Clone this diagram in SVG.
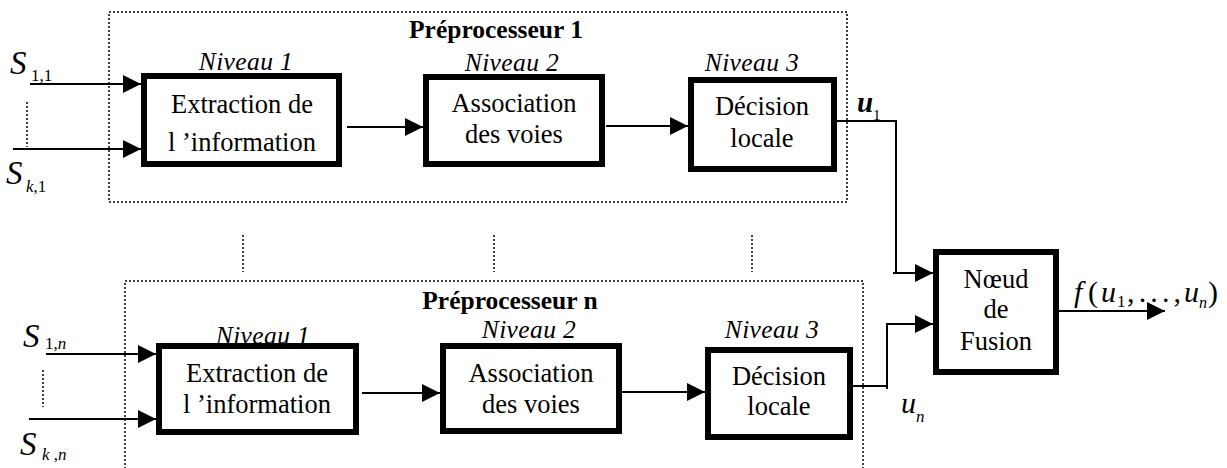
<svg xmlns="http://www.w3.org/2000/svg" width="1227" height="468" viewBox="0 0 1227 468">
<style>
.box{fill:#fff;stroke:#000;stroke-width:6}
.pre{fill:none;stroke:#000;stroke-width:1.5;stroke-dasharray:2 2}
.dot{fill:none;stroke:#000;stroke-width:1.5;stroke-dasharray:2 2}
.ln{fill:none;stroke:#000;stroke-width:2}
text{font-family:"Liberation Serif",Tinos,"Times New Roman","DejaVu Serif",serif;fill:#000}
.t{font-size:26.5px;text-anchor:middle}
.niv{font-size:25.5px;font-style:italic;text-anchor:middle;letter-spacing:0.4px}
.ttl{font-size:25.5px;font-weight:bold;text-anchor:middle}
.m{font-style:italic}
.big{font-size:33px;font-style:italic}
.sub{font-size:17px}
.fx{font-size:30px}
</style>
<defs>
<marker id="ah" markerUnits="userSpaceOnUse" markerWidth="18" markerHeight="18" refX="18" refY="9" orient="auto" viewBox="0 0 18 18">
<path d="M0,0 L18,9 L0,18 z" fill="#000"/>
</marker>
</defs>
<g id="preprocesseur-1">
<rect class="pre" x="109" y="12" width="738" height="190"/>
<text class="ttl" x="496" y="38">Préprocesseur 1</text>
</g>
<g id="preprocesseur-n">
<rect class="pre" x="125" y="281" width="738" height="200"/>
<text class="ttl" x="510" y="309">Préprocesseur n</text>
</g>
<g id="extraction-1">
<text class="niv" x="246" y="70">Niveau 1</text>
<rect class="box" x="144" y="76" width="195" height="88"/>
<text class="t" x="242" y="113">Extraction de</text>
<text class="t" x="242" y="151">l ’information</text>
</g>
<g id="association-1">
<text class="niv" x="512" y="71">Niveau 2</text>
<rect class="box" x="426" y="77" width="176" height="87"/>
<text class="t" x="514" y="112">Association</text>
<text class="t" x="514" y="143">des voies</text>
</g>
<g id="decision-1">
<text class="niv" x="752" y="71">Niveau 3</text>
<rect class="box" x="691" y="80" width="143" height="89"/>
<text class="t" x="762" y="115">Décision</text>
<text class="t" x="762" y="147">locale</text>
</g>
<g id="extraction-n">
<text class="niv" x="263" y="344">Niveau 1</text>
<rect class="box" x="159" y="346" width="197" height="86"/>
<text class="t" x="257" y="382">Extraction de</text>
<text class="t" x="257" y="413">l ’information</text>
</g>
<g id="association-n">
<text class="niv" x="529" y="338">Niveau 2</text>
<rect class="box" x="443" y="346" width="176" height="85"/>
<text class="t" x="531" y="382">Association</text>
<text class="t" x="531" y="413">des voies</text>
</g>
<g id="decision-n">
<text class="niv" x="772" y="338">Niveau 3</text>
<rect class="box" x="708" y="350" width="142" height="87"/>
<text class="t" x="779" y="385">Décision</text>
<text class="t" x="779" y="415">locale</text>
</g>
<g id="fusion">
<rect class="box" x="936" y="252" width="120" height="120"/>
<text class="t" x="996" y="288">Nœud</text>
<text class="t" x="996" y="318">de</text>
<text class="t" x="996" y="350">Fusion</text>
</g>
<g id="labels">
<text class="big" x="10" y="74">S</text>
<text class="sub" x="31" y="81">1,1</text>
<text class="big" x="6" y="184">S</text>
<text class="sub" x="26" y="192"><tspan font-style="italic">k</tspan>,1</text>
<text class="big" x="23" y="347">S</text>
<text class="sub" x="45" y="349">1,<tspan font-style="italic">n</tspan></text>
<text class="big" x="20" y="455">S</text>
<text class="sub" x="42" y="460"><tspan font-style="italic">k</tspan> ,<tspan font-style="italic">n</tspan></text>
<text class="m" x="857" y="112" font-size="29" font-weight="bold">u</text>
<text x="873" y="120" font-size="15">1</text>
<text class="m" x="901" y="413" font-size="30">u</text>
<text class="m" x="916" y="422" font-size="17">n</text>
<text class="fx m" x="1074" y="302">f</text>
<text class="fx" x="1088" y="302">(</text>
<text class="fx m" x="1101" y="302">u</text>
<text x="1117" y="307" font-size="17">1</text>
<text class="fx" x="1127" y="302" textLength="54" lengthAdjust="spacing">,...,</text>
<text class="fx m" x="1184" y="302">u</text>
<text class="m" x="1199" y="308" font-size="16">n</text>
<text class="fx" x="1208" y="302">)</text>
</g>
<g id="connectors">
<line class="ln" x1="30" y1="84" x2="141" y2="84" marker-end="url(#ah)"/>
<line class="ln" x1="13" y1="149" x2="141" y2="149" marker-end="url(#ah)"/>
<line class="ln" x1="347" y1="127" x2="423" y2="127" marker-end="url(#ah)"/>
<line class="ln" x1="606" y1="126" x2="688" y2="126" marker-end="url(#ah)"/>
<polyline class="ln" points="837,121 896,121 896,273"/>
<line class="ln" x1="893" y1="273" x2="933" y2="273" marker-end="url(#ah)"/>
<line class="ln" x1="46" y1="354" x2="156" y2="354" marker-end="url(#ah)"/>
<line class="ln" x1="29" y1="419" x2="156" y2="419" marker-end="url(#ah)"/>
<line class="ln" x1="362" y1="393" x2="440" y2="393" marker-end="url(#ah)"/>
<line class="ln" x1="622" y1="392" x2="705" y2="392" marker-end="url(#ah)"/>
<polyline class="ln" points="853,386 887,386"/>
<line class="ln" x1="887" y1="389" x2="887" y2="323"/>
<line class="ln" x1="886" y1="324" x2="933" y2="324" marker-end="url(#ah)"/>
<line class="ln" x1="1059" y1="311" x2="1165" y2="311" marker-end="url(#ah)"/>
<line class="dot" x1="27" y1="102" x2="27" y2="147"/>
<line class="dot" x1="43" y1="370" x2="43" y2="407"/>
<line class="dot" x1="243" y1="235" x2="243" y2="272"/>
<line class="dot" x1="494" y1="235" x2="494" y2="272"/>
<line class="dot" x1="752" y1="235" x2="752" y2="272"/>
</g>
</svg>
